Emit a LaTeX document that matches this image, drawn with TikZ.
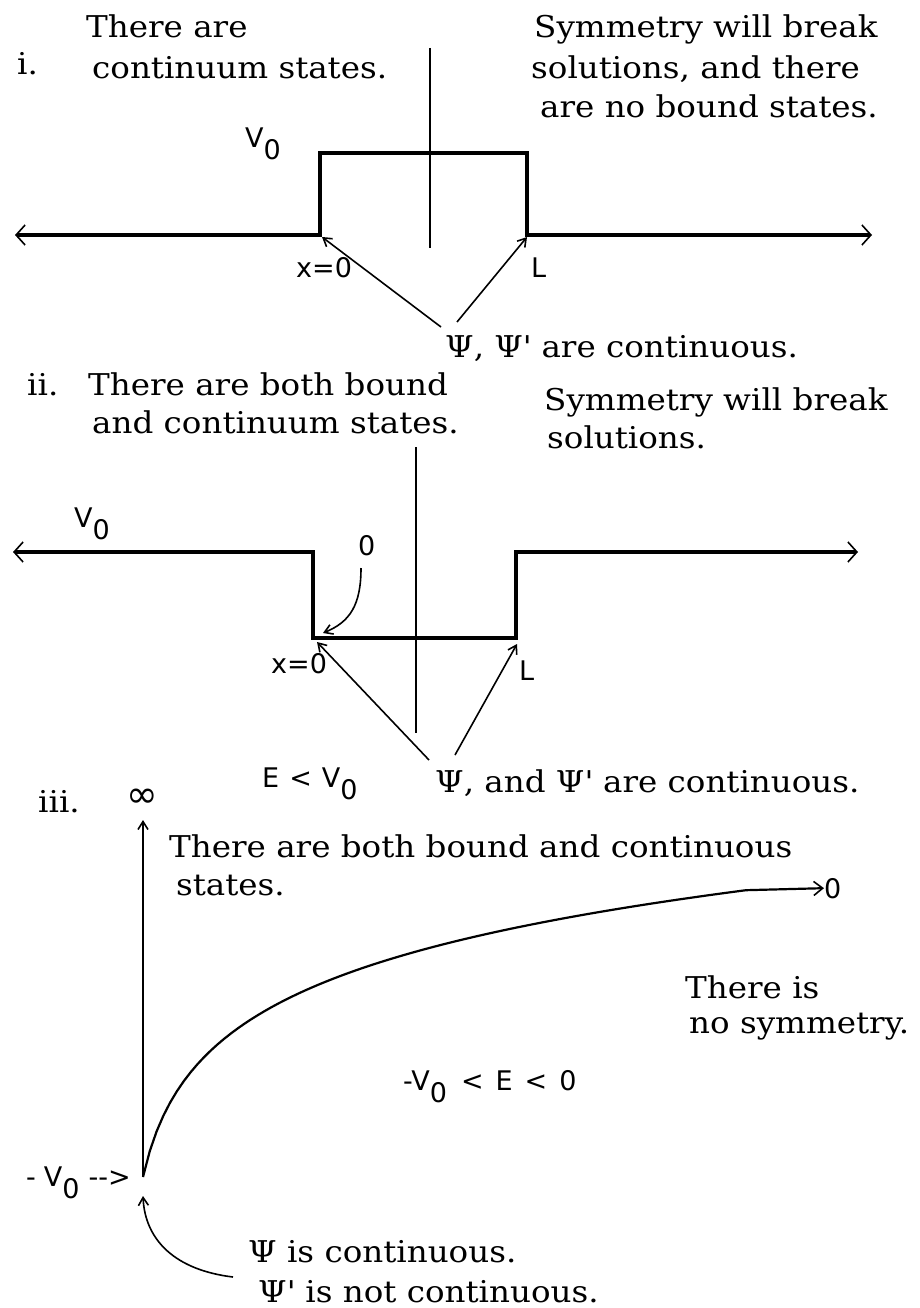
\documentclass[tikz,border=0pt]{standalone}
\usepackage{fontspec}
\setmainfont{DejaVu Serif}[FakeStretch=1.085]
\newfontfamily\labelfont{DejaVu Sans}
\usetikzlibrary{positioning,arrows.meta}
\newcommand{\Vnought}{V\raisebox{-12pt}{0}}
\tikzset{
  txt/.style={anchor=base west,inner sep=0pt,font=\fontsize{30}{34}\selectfont},
  lbl/.style={anchor=base west,inner sep=0pt,font=\labelfont\fontsize{27}{30}\selectfont},
  potential/.style={line width=3.2pt,
    {Straight Barb[length=9pt,width=20pt,line width=1.6pt]}-{Straight Barb[length=9pt,width=20pt,line width=1.6pt]}},
  axisline/.style={line width=2.2pt},
  pointer/.style={-{Straight Barb[length=8pt,width=10pt]},line width=1.6pt},
  curveline/.style={line width=2.2pt,-{Straight Barb[length=9pt,width=14pt,line width=1.6pt]}}
}

\begin{document}
\begin{tikzpicture}[x=1pt,y=-1pt]
  \useasboundingbox (0,0) rectangle (920,1308);

  % i.
  \node[txt] (numi) at (17,75) {i.};
  \node[txt] (introi) at (86,38) {There are};
  \node[txt] (introib) at (92,79) {continuum states.};
  \node[txt] (symi) at (534,38) {Symmetry will break};
  \node[txt] (symib) at (531,79) {solutions, and there};
  \node[txt] (symic) at (540,118) {are no bound states.};
  \node[lbl] (vi) at (245,148) {\Vnought};
  \node[lbl] (xi) at (296,277) {x=0};
  \node[lbl] (li) at (531,277) {L};
  \node[txt] (psii) at (445,357) {Ψ, Ψ\textquotesingle{} are continuous.};
  \coordinate (ci0) at (322,237);
  \coordinate (ciL) at (527,237);
  \coordinate (pi1) at (441,327);
  \coordinate (pi2) at (457,322);
  \draw[axisline] (430,48) -- (430,248);
  \draw[potential] (15,235) -- (320,235) -- (320,153) -- (527,153) -- (527,235) -- (872,235);
  \draw[pointer] (pi1) -- (ci0);
  \draw[pointer] (pi2) -- (ciL);

  % ii.
  \node[txt] (numii) at (27,395) {ii.};
  \node[txt] (introii) at (88,395) {There are both bound};
  \node[txt] (introiib) at (92,433) {and continuum states.};
  \node[txt] (symii) at (544,410) {Symmetry will break};
  \node[txt] (symiib) at (547,448) {solutions.};
  \node[lbl] (vii) at (74,527) {\Vnought};
  \node[lbl] (zeroii) at (358,555) {0};
  \node[lbl] (xii) at (271,673) {x=0};
  \node[lbl] (lii) at (519,680) {L};
  \node[lbl] (eii) at (262,787) {E\hspace{10pt}<\hspace{10pt}\Vnought};
  \node[txt] (psiii) at (435,792) {Ψ, and Ψ\textquotesingle{} are continuous.};
  \coordinate (cii0) at (317,642);
  \coordinate (ciiL) at (517,644);
  \coordinate (pii1) at (429,760);
  \coordinate (pii2) at (455,755);
  \coordinate (zeroiitail) at (361,568);
  \coordinate (ciitop) at (323,633);
  \draw[axisline] (416,447) -- (416,733);
  \draw[potential] (13,552) -- (313,552) -- (313,638) -- (516,638) -- (516,552) -- (858,552);
  \draw[pointer] (zeroiitail) .. controls (361,605) and (350,622) .. (ciitop);
  \draw[pointer] (pii1) -- (cii0);
  \draw[pointer] (pii2) -- (ciiL);

  % iii.
  \node[txt] (numiii) at (38,812) {iii.};
  \node[lbl,anchor=center,font=\labelfont\fontsize{38}{40}\selectfont] (inf) at (142,798) {∞};
  \node[txt] (introiii) at (169,857) {There are both bound and continuous};
  \node[txt] (introiiib) at (176,895) {states.};
  \node[lbl] (zeroiii) at (824,898) {0};
  \node[txt] (nosym) at (685,998) {There is};
  \node[txt] (nosymb) at (689,1033) {no symmetry.};
  \node[lbl] (eiii) at (403,1090) {-\Vnought\hspace{14pt}<\hspace{12pt}E\hspace{12pt}<\hspace{12pt}0};
  \node[lbl] (vbot) at (26,1186) {-\hspace{8pt}\Vnought\hspace{9pt}-{}-{}>};
  \node[txt] (psiiii) at (248,1262) {Ψ is continuous.};
  \node[txt] (psiiiib) at (258,1302) {Ψ\textquotesingle{} is not continuous.};
  \coordinate (bottom) at (143,1177);
  \coordinate (top) at (143,820);
  \coordinate (tailiii) at (233,1277);
  \coordinate (tipiii) at (143,1196);
  \draw[axisline,-{Straight Barb[length=8pt,width=10pt,line width=1.6pt]}] (bottom) -- (top);
  \draw[curveline] plot[domain=0:603,samples=90] ({143+\x},{1177-81*ln(1+\x/18)}) -- (zeroiii.west);
  \draw[pointer] (tailiii) .. controls (175,1270) and (145,1240) .. (tipiii);
\end{tikzpicture}
\end{document}
